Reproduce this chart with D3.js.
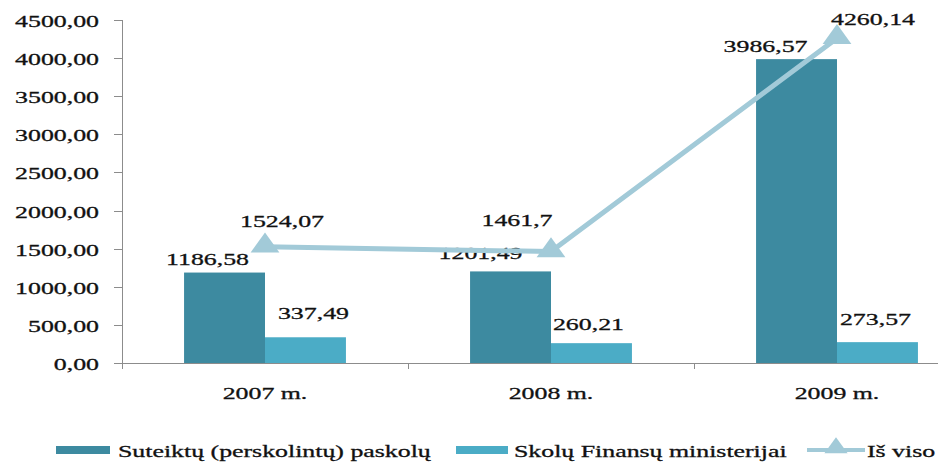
<!DOCTYPE html>
<html lang="lt">
<head>
<meta charset="UTF-8">
<title>Paskolos</title>
<script src="https://d3js.org/d3.v7.min.js"></script>
<style>
  body { margin: 0; background: #fff; }
</style>
</head>
<body>
<svg id="chart" width="938" height="462"></svg>
<script>
// data
const years = ["2007 m.", "2008 m.", "2009 m."];
const seriesNames = ["Suteiktų (perskolintų) paskolų", "Skolų Finansų ministerijai"];
const loans = [1186.58, 1201.49, 3986.57];
const debts = [337.49, 260.21, 273.57];
const totals = [1524.07, 1461.7, 4260.14];
const totalLabels = ["1524,07", "1461,7", "4260,14"];
const yTicks = [0, 500, 1000, 1500, 2000, 2500, 3000, 3500, 4000, 4500];

// label nudges (dx, dy) to follow the original placement
const loanNudge = [[-17, -8], [-30, -12], [-31, -7]];
const debtNudge = [[8, -18], [-3, -13], [-2, -17]];
const totalNudge = [[17, -20], [-34, -26], [36, -13]];

const colors = ["#3d8aa0", "#4bacc6"];
const lineColor = "#a2cad8";
const SX = 1.52;      // the original's text is stretched sideways
const FS = 17;

const svg = d3.select("#chart");
const fmt = v => v.toFixed(2).replace(".", ",");

const x = d3.scaleBand().domain(years).range([122, 980]);
const bw = x.bandwidth();
const gw = bw * 0.566;
const xs = d3.scaleBand().domain(seriesNames).range([(bw - gw) / 2, (bw + gw) / 2]);
const y = d3.scaleLinear().domain([0, 4500]).range([363, 20]);

function label(g, px, py, str, anchor) {
  g.append("g")
    .attr("transform", `translate(${px},${py}) scale(${SX},1)`)
    .append("text")
    .attr("text-anchor", anchor || "middle")
    .style("font-family", '"Liberation Serif"')
    .attr("font-size", FS)
    .attr("fill", "#111")
    .attr("stroke", "#111")
    .attr("stroke-width", 0.3)
    .text(str);
}

// y axis
const yAxis = svg.append("g").attr("class", "y-axis");
yAxis.append("line")
  .attr("x1", 122.5).attr("x2", 122.5)
  .attr("y1", y(4500)).attr("y2", y(0) + 6)
  .attr("stroke", "#8c8c8c");
yTicks.forEach(t => {
  yAxis.append("line")
    .attr("x1", 114).attr("x2", 122.5)
    .attr("y1", Math.round(y(t)) + 0.5).attr("y2", Math.round(y(t)) + 0.5)
    .attr("stroke", "#8c8c8c");
  label(yAxis, 99, y(t) + 7, fmt(t), "end");
});

// x axis
const xAxis = svg.append("g").attr("class", "x-axis");
xAxis.append("line")
  .attr("x1", 122).attr("x2", 938)
  .attr("y1", y(0) + 0.5).attr("y2", y(0) + 0.5)
  .attr("stroke", "#8c8c8c");
years.forEach(c => {
  xAxis.append("line")
    .attr("x1", x(c) + bw + 0.5).attr("x2", x(c) + bw + 0.5)
    .attr("y1", y(0)).attr("y2", y(0) + 6)
    .attr("stroke", "#8c8c8c");
  label(xAxis, x(c) + bw / 2, 399, c);
});

// bars
const seriesVals = [loans, debts];
const nudges = [loanNudge, debtNudge];
seriesVals.forEach((vals, si) => {
  const g = svg.append("g").attr("class", "bars");
  g.selectAll("rect")
    .data(vals)
    .enter()
    .append("rect")
    .attr("x", (d, i) => x(years[i]) + xs(seriesNames[si]))
    .attr("width", xs.bandwidth())
    .attr("y", d => y(d))
    .attr("height", d => y(0) - y(d))
    .attr("fill", colors[si]);
  vals.forEach((v, i) => {
    const cx = x(years[i]) + xs(seriesNames[si]) + xs.bandwidth() / 2;
    label(g, cx + nudges[si][i][0], y(v) + nudges[si][i][1], fmt(v));
  });
});

// total line
const line = d3.line()
  .x((d, i) => x(years[i]) + bw / 2)
  .y(d => y(d));
svg.append("path")
  .datum(totals)
  .attr("d", line)
  .attr("fill", "none")
  .attr("stroke", lineColor)
  .attr("stroke-width", 5)
  .attr("stroke-linejoin", "round");

const tri = d3.symbol().type(d3.symbolTriangle).size(230);
svg.append("g").selectAll("path")
  .data(totals)
  .enter()
  .append("path")
  .attr("d", tri)
  .attr("transform", (d, i) => `translate(${x(years[i]) + bw / 2},${y(d) - 1}) scale(1.25,1)`)
  .attr("fill", lineColor);

const tl = svg.append("g");
totals.forEach((v, i) => {
  label(tl, x(years[i]) + bw / 2 + totalNudge[i][0], y(v) + totalNudge[i][1], totalLabels[i]);
});

// legend
const lg = svg.append("g").attr("class", "legend");
const legendItems = [
  { name: seriesNames[0], type: "rect", color: colors[0], x0: 56, x1: 110, tx: 118 },
  { name: seriesNames[1], type: "rect", color: colors[1], x0: 456, x1: 508, tx: 514 },
  { name: "Iš viso", type: "line", color: lineColor, x0: 807, x1: 865, tx: 867 }
];
legendItems.forEach(it => {
  if (it.type === "rect") {
    lg.append("rect")
      .attr("x", it.x0).attr("y", 446)
      .attr("width", it.x1 - it.x0).attr("height", 8)
      .attr("fill", it.color);
  } else {
    lg.append("line")
      .attr("x1", it.x0).attr("x2", it.x1)
      .attr("y1", 450).attr("y2", 450)
      .attr("stroke", it.color).attr("stroke-width", 4);
    lg.append("path")
      .attr("d", d3.symbol().type(d3.symbolTriangle).size(150))
      .attr("transform", `translate(${(it.x0 + it.x1) / 2},448) scale(1.25,1)`)
      .attr("fill", it.color);
  }
  label(lg, it.tx, 457, it.name, "start");
});
</script>
</body>
</html>
